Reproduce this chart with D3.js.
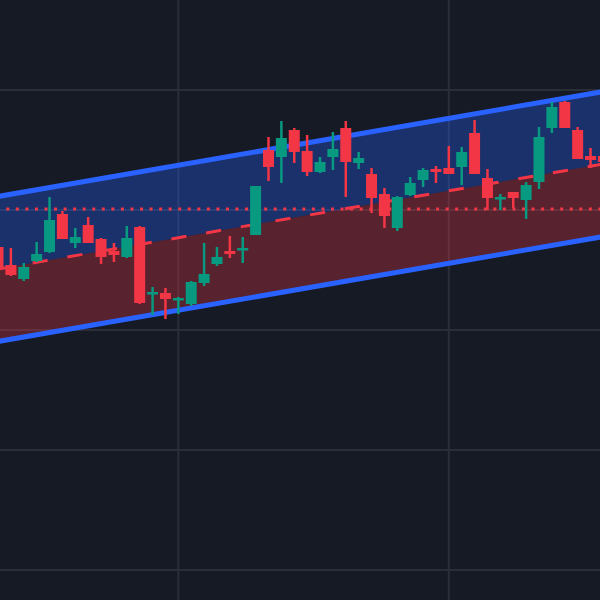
<!DOCTYPE html>
<html>
<head>
<meta charset="utf-8">
<script src="https://cdn.jsdelivr.net/npm/d3@7/dist/d3.min.js"></script>
<style>
  html, body { margin: 0; padding: 0; background: #161a25; }
  svg { display: block; }
</style>
</head>
<body>
<svg id="chart" width="600" height="600"></svg>
<script>
// Daily OHLC bars, oldest first
const open  = [84.3, 82.5, 81.1, 82.9, 83.8, 87.6, 84.7, 86.5, 85.1, 83.9,
               83.3, 86.3, 79.6, 79.7, 79.0, 78.6, 80.7, 82.6, 83.9, 84.0,
               85.5, 94.0, 93.3, 96.0, 93.9, 91.8, 93.3, 96.2, 92.7, 91.6,
               89.6, 86.2, 89.5, 91.0, 92.1, 92.2, 92.3, 95.7, 91.2, 89.1,
               89.8, 89.0, 90.8, 96.2, 98.8, 96.0, 93.4, 93.4];
const high  = [84.6, 84.2, 82.7, 84.8, 89.3, 87.9, 86.2, 87.3, 85.2, 84.7,
               86.4, 86.4, 80.3, 80.2, 79.3, 80.9, 84.7, 84.3, 85.4, 85.3,
               90.4, 95.3, 96.9, 96.2, 95.5, 93.3, 95.8, 96.9, 93.8, 92.2,
               90.2, 89.4, 91.3, 92.2, 92.4, 94.4, 94.3, 97.0, 92.1, 89.6,
               89.8, 90.8, 96.3, 98.8, 98.9, 96.3, 94.2, 93.8];
const low   = [81.9, 81.4, 80.9, 82.8, 83.7, 85.1, 84.2, 84.7, 82.6, 82.8,
               83.2, 78.6, 77.5, 77.1, 77.6, 78.4, 80.4, 82.4, 83.2, 82.7,
               85.5, 90.9, 90.7, 92.7, 91.4, 91.7, 92.0, 89.3, 92.1, 87.7,
               86.2, 85.9, 89.4, 90.3, 90.7, 91.6, 90.5, 91.6, 88.0, 88.0,
               88.2, 87.1, 90.1, 95.7, 96.2, 93.1, 92.2, 92.5];
const close = [82.1, 81.5, 82.3, 83.6, 87.0, 85.1, 85.3, 84.7, 83.3, 83.5,
               85.2, 78.7, 79.8, 79.1, 79.2, 80.8, 81.6, 83.3, 83.6, 84.2,
               90.4, 92.3, 95.2, 93.8, 91.8, 92.8, 94.1, 92.8, 93.2, 89.2,
               87.4, 89.3, 90.7, 92.0, 91.8, 91.6, 93.8, 91.6, 89.2, 89.3,
               89.2, 90.5, 95.3, 98.3, 96.2, 93.1, 93.0, 92.8];

// Horizontal grid levels (price) and vertical grid positions (bar index)
const gridPrices = [100, 88, 76, 64, 52];
const gridBars = [14, 35];

// Regression channel: centre line at the first and last bar, plus deviation
const channelBars = [0, 47];
const channelMid = [82.1, 92.6];
const channelDev = 7.25;

// Horizontal price marker
const markerPrice = 88.1;

const W = 600, H = 600;
const COLORS = {
  bg: "#161a25",
  grid: "#2a2e39",
  up: "#089981",
  down: "#f23645",
  channel: "#2962ff",
  upperFill: "rgba(41, 98, 255, 0.32)",
  lowerFill: "rgba(242, 54, 69, 0.30)"
};

const bars = open.map((o, i) => ({ i, o, h: high[i], l: low[i], c: close[i] }));

const x = d3.scaleLinear().domain([0, 47]).range([-2, 603.4]);
const y = d3.scaleLinear().domain([49, 109]).range([H, 0]);

const svg = d3.select("#chart");
svg.append("rect").attr("width", W).attr("height", H).attr("fill", COLORS.bg);

// Grid
const grid = svg.append("g");
grid.selectAll("line.h").data(gridPrices).join("line")
  .attr("class", "h")
  .attr("x1", 0).attr("x2", W)
  .attr("y1", d => y(d)).attr("y2", d => y(d))
  .attr("stroke", COLORS.grid).attr("stroke-width", 2);
grid.selectAll("line.v").data(gridBars).join("line")
  .attr("class", "v")
  .attr("x1", d => x(d)).attr("x2", d => x(d))
  .attr("y1", 0).attr("y2", H)
  .attr("stroke", COLORS.grid).attr("stroke-width", 2);

// Channel geometry
const slope = (channelMid[1] - channelMid[0]) / (channelBars[1] - channelBars[0]);
const mid = i => channelMid[0] + slope * (i - channelBars[0]);
const span = [-2, 49];

svg.append("path")
  .datum(span)
  .attr("d", d3.area().x(d => x(d)).y0(d => y(mid(d))).y1(d => y(mid(d) + channelDev)))
  .attr("fill", COLORS.upperFill);
svg.append("path")
  .datum(span)
  .attr("d", d3.area().x(d => x(d)).y0(d => y(mid(d) - channelDev)).y1(d => y(mid(d))))
  .attr("fill", COLORS.lowerFill);

// Price marker (dotted)
svg.append("line")
  .attr("x1", 0).attr("x2", W)
  .attr("y1", y(markerPrice)).attr("y2", y(markerPrice))
  .attr("stroke", COLORS.down).attr("stroke-width", 3)
  .attr("stroke-dasharray", "3 6.55").attr("stroke-dashoffset", 3.25);

// Centre line (dashed)
svg.append("path")
  .datum([channelBars[0], 49])
  .attr("d", d3.line().x(d => x(d)).y(d => y(mid(d))))
  .attr("fill", "none")
  .attr("stroke", COLORS.down).attr("stroke-width", 3)
  .attr("stroke-dasharray", "15.2 20");

// Upper and lower channel bounds
[channelDev, -channelDev].forEach(off => {
  svg.append("path")
    .datum(span)
    .attr("d", d3.line().x(d => x(d)).y(d => y(mid(d) + off)))
    .attr("fill", "none")
    .attr("stroke", COLORS.channel).attr("stroke-width", 5);
});

// Candles
const bodyW = 11;
const candles = svg.append("g").selectAll("g").data(bars).join("g")
  .attr("fill", d => d.c >= d.o ? COLORS.up : COLORS.down)
  .attr("stroke", d => d.c >= d.o ? COLORS.up : COLORS.down);
candles.append("line")
  .attr("x1", d => x(d.i)).attr("x2", d => x(d.i))
  .attr("y1", d => y(d.h)).attr("y2", d => y(d.l))
  .attr("stroke-width", 2.5);
candles.append("rect")
  .attr("stroke", "none")
  .attr("x", d => x(d.i) - bodyW / 2)
  .attr("width", bodyW)
  .attr("y", d => y(Math.max(d.o, d.c)))
  .attr("height", d => Math.max(2.5, Math.abs(y(d.o) - y(d.c))));
</script>
</body>
</html>
